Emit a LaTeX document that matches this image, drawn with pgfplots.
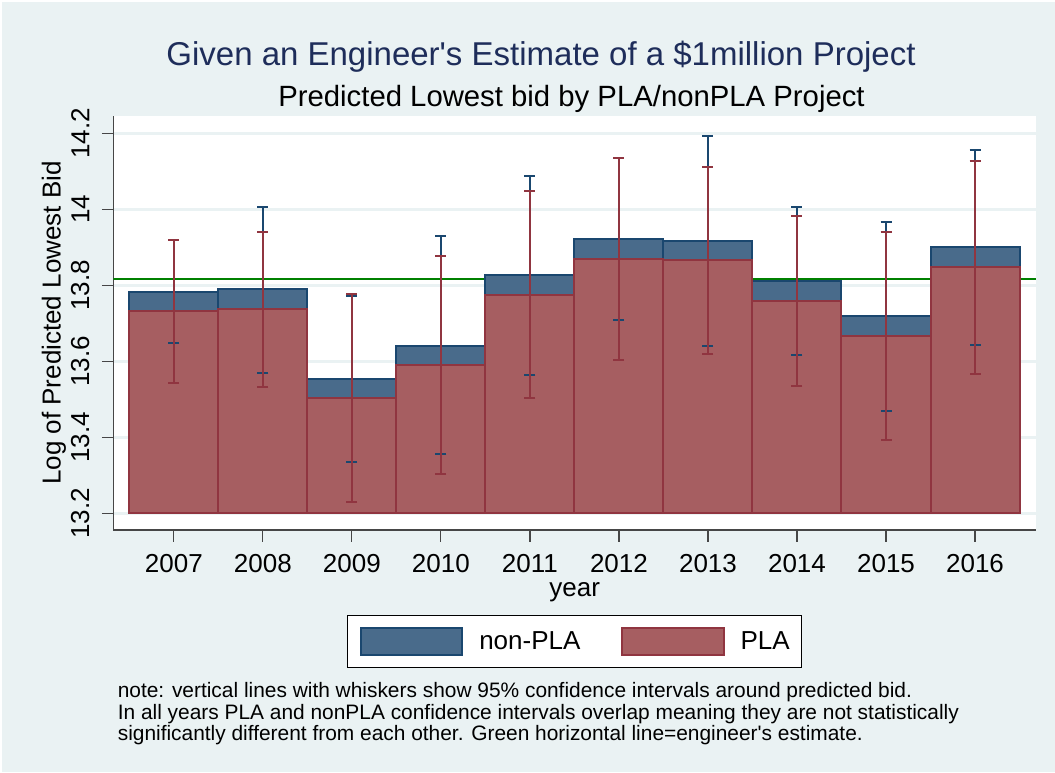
\documentclass[border=0pt]{standalone}
\usepackage{fontspec}
\setmainfont{Liberation Sans}
\usepackage{pgfplots}
\usepackage{pgfplotstable}
\pgfplotsset{compat=1.18}
\definecolor{bgc}{RGB}{234,242,243}
\definecolor{gridc}{RGB}{234,242,243}
\definecolor{npfill}{RGB}{73,107,139}
\definecolor{npline}{RGB}{26,71,111}
\definecolor{plfill}{RGB}{166,94,97}
\definecolor{plline}{RGB}{144,53,64}
\definecolor{axc}{RGB}{70,70,70}
\definecolor{titc}{RGB}{30,45,90}
\definecolor{estg}{RGB}{0,128,0}
\tikzset{npstyle/.style={fill=npfill, draw=npline, line width=2pt},
         plstyle/.style={fill=plfill, draw=plline, line width=2pt}}

% predicted log lowest bid and 95% CI (lo, hi) by year
\pgfplotstableread{
year np nplo nphi pl pllo plhi
2007 13.783 13.647 13.919 13.733 13.542 13.919
2008 13.789 13.570 14.007 13.737 13.533 13.941
2009 13.553 13.334 13.772 13.503 13.229 13.776
2010 13.641 13.355 13.930 13.590 13.303 13.877
2011 13.826 13.565 14.088 13.775 13.503 14.048
2012 13.921 13.709 14.134 13.869 13.603 14.136
2013 13.917 13.640 14.194 13.866 13.619 14.112
2014 13.811 13.616 14.005 13.759 13.535 13.982
2015 13.718 13.470 13.966 13.667 13.393 13.941
2016 13.900 13.642 14.156 13.848 13.567 14.128
}\bids
\pgfplotstableread{
x y
2006.32 13.8155
2016.685 13.8155
}\estimate

\begin{document}
\begin{tikzpicture}
\fill[white] (0pt,0pt) rectangle (1055pt,-772pt);
\fill[bgc] (2pt,-2pt) rectangle (1055pt,-772pt);
\begin{axis}[
  at={(113.3pt,-530pt)}, anchor=south west,
  scale only axis, width=922.7pt, height=414pt,
  xmin=2006.32, xmax=2016.685, ymin=-0.044, ymax=1.0455,
  axis background/.style={fill=white},
  axis x line*=bottom, axis y line*=left,
  axis line style={draw=axc, line width=1.5pt},
  tick align=outside, major tick length=11.5pt,
  tick style={draw=axc, line width=1.2pt},
  xtick={2007,2008,2009,2010,2011,2012,2013,2014,2015,2016},
  xticklabels={2007,2008,2009,2010,2011,2012,2013,2014,2015,2016},
  ytick={0,0.2,0.4,0.6,0.8,1},
  yticklabels={13.2,13.4,13.6,13.8,14,14.2},
  ymajorgrids, grid style={draw=gridc, line width=2.5pt},
  /pgf/number format/assume math mode=true,
  ticklabel style={font=\fontsize{26}{26}\selectfont},
  yticklabel style={rotate=90, anchor=south, yshift=9pt},
  xticklabel style={anchor=north, yshift=-9pt},
  xlabel={year}, ylabel={Log of Predicted Lowest Bid},
  every axis x label/.style={at={(axis description cs:0.5,-0.1611)}, anchor=base, font=\fontsize{26}{26}\selectfont},
  every axis y label/.style={at={(axis description cs:-0.05722,0.5)}, rotate=90, anchor=base, font=\fontsize{26}{26}\selectfont},
  legend columns=2,
  legend cell align=left,
  legend style={at={(0.5,-0.2698)}, anchor=center, draw=black, line width=1.2pt, fill=white,
    inner xsep=12pt, inner ysep=11.3pt, font=\fontsize{26}{26}\selectfont,
    nodes={inner sep=0pt},
    /tikz/every odd column/.append style={column sep=16pt},
    /tikz/every even column/.append style={column sep=40.4pt}},
]
\addplot[forget plot, draw=estg, line width=2pt, mark=none] table[x=x, y expr=\thisrow{y}-13.2] {\estimate};
\addplot[ybar, bar width=1, bar shift=0pt, npstyle,
  legend image code/.code={\draw[npstyle] (0pt,-13.7pt) rectangle (101.7pt,13.7pt);}]
  table[x=year, y expr=\thisrow{np}-13.2] {\bids};
\addlegendentry{non-PLA}
\addplot[ybar, bar width=1, bar shift=0pt, plstyle,
  legend image code/.code={\draw[plstyle] (0pt,-13.7pt) rectangle (101.7pt,13.7pt);}]
  table[x=year, y expr=\thisrow{pl}-13.2] {\bids};
\addlegendentry{PLA}
\addplot[forget plot, draw=none, mark=none,
  error bars/.cd, y dir=both, y explicit,
  error bar style={draw=npline, line width=2pt},
  error mark options={rotate=90, draw=npline, line width=2pt, mark size=5.5pt}]
  table[x=year, y expr=\thisrow{np}-13.2,
        y error plus expr=\thisrow{nphi}-\thisrow{np},
        y error minus expr=\thisrow{np}-\thisrow{nplo}] {\bids};
\addplot[forget plot, draw=none, mark=none,
  error bars/.cd, y dir=both, y explicit,
  error bar style={draw=plline, line width=2pt},
  error mark options={rotate=90, draw=plline, line width=2pt, mark size=5.5pt}]
  table[x=year, y expr=\thisrow{pl}-13.2,
        y error plus expr=\thisrow{plhi}-\thisrow{pl},
        y error minus expr=\thisrow{pl}-\thisrow{pllo}] {\bids};
\end{axis}
\node[anchor=base, font=\fontsize{33}{33}\selectfont, text=titc] at (541pt,-65pt) {Given an Engineer\textquotesingle s Estimate of a \$1million Project};
\node[anchor=base, font=\fontsize{29.3}{29.3}\selectfont] at (571.5pt,-106pt) {Predicted Lowest bid by PLA/nonPLA Project};
\node[anchor=base west, font=\fontsize{20.9}{20.9}\selectfont, inner sep=0pt] at (117.6pt,-697pt) {note: vertical lines with whiskers show 95\% confidence intervals around predicted bid.};
\node[anchor=base west, font=\fontsize{20.9}{20.9}\selectfont, inner sep=0pt] at (117.6pt,-719pt) {In all years PLA and nonPLA confidence intervals overlap meaning they are not statistically};
\node[anchor=base west, font=\fontsize{20.9}{20.9}\selectfont, inner sep=0pt] at (117.6pt,-740pt) {significantly different from each other. Green horizontal line=engineer\textquotesingle s estimate.};
\pgfresetboundingbox
\path (0pt,0pt) rectangle (1055pt,-772pt);
\end{tikzpicture}
\end{document}
